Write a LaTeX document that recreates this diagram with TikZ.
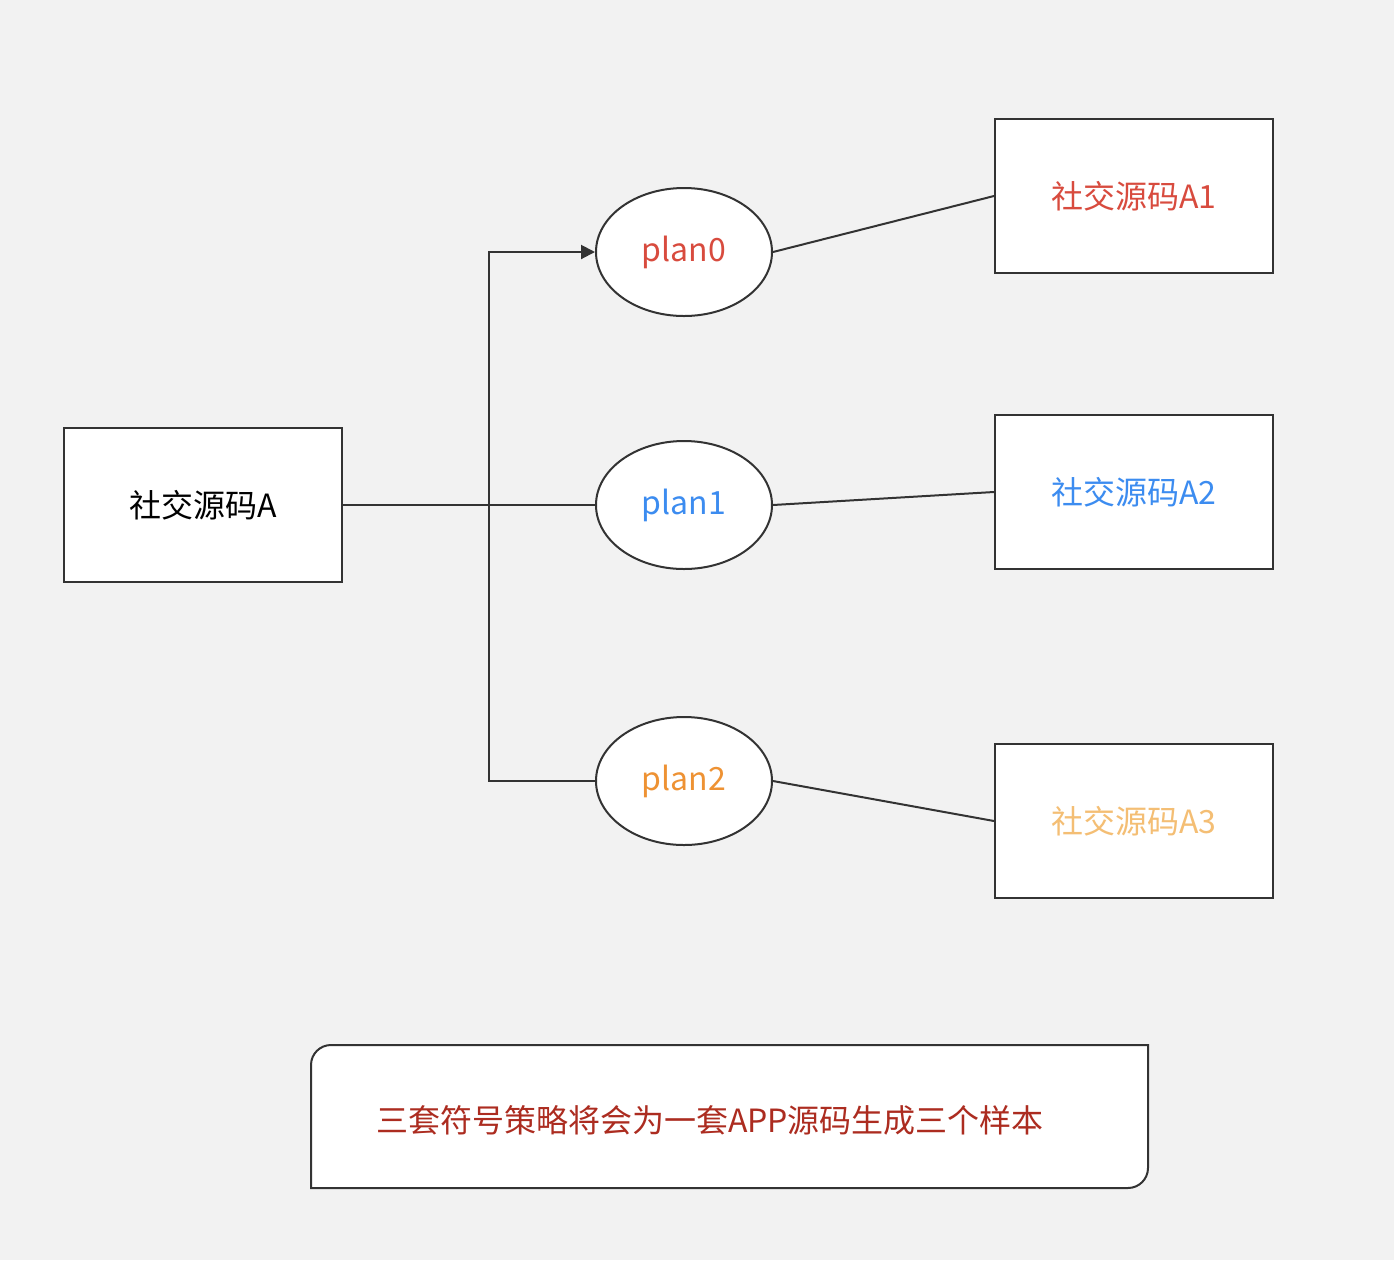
\documentclass[tikz,border=0pt]{standalone}
\usepackage{fontspec}
\setmainfont{Noto Sans CJK SC}
\usetikzlibrary{shapes.geometric,arrows.meta}
\definecolor{bggray}{HTML}{F2F2F2}
\definecolor{linegray}{HTML}{333333}
\definecolor{planred}{HTML}{D84B3E}
\definecolor{planblue}{HTML}{3C8CF0}
\definecolor{planorange}{HTML}{EE9233}
\definecolor{lightorange}{HTML}{F4BE74}
\definecolor{notered}{HTML}{AC2C20}
\tikzset{
  srcbox/.style={draw=linegray,fill=white,line width=1pt,minimum width=139pt,minimum height=77pt,inner sep=0pt,font=\fontsize{16}{19}\selectfont},
  plannode/.style={ellipse,draw=linegray,fill=white,line width=1pt,minimum width=88pt,minimum height=64pt,inner sep=0pt,font=\fontsize{16}{19}\selectfont},
  link/.style={draw=linegray,line width=1pt}
}
\begin{document}
\begin{tikzpicture}[x=0.5pt,y=-0.5pt]
    \fill[bggray] (0,0) rectangle (1394,1260);
    % source and samples
    \node[srcbox] (src) at (203,505) {社交源码A};
    \node[srcbox,text=planred] (a1) at (1134,196) {社交源码A1};
    \node[srcbox,text=planblue] (a2) at (1134,492) {社交源码A2};
    \node[srcbox,text=lightorange] (a3) at (1134,821) {社交源码A3};
    % plans
    \node[plannode,text=planred] (p0) at (684,252) {plan0};
    \node[plannode,text=planblue] (p1) at (684,505) {plan1};
    \node[plannode,text=planorange] (p2) at (684,781) {plan2};
    \coordinate (t0) at (489,252);
    \coordinate (t2) at (489,781);
    \draw[link] (src.east) -- (p1.west);
    \draw[link,-{Triangle[length=7pt,width=7pt]}] (p2.west) -- (t2) -- (t0) -- (p0.west);
    \draw[link] (p0.east) -- (a1.west);
    \draw[link] (p1.east) -- (a2.west);
    \draw[link] (p2.east) -- (a3.west);
    % note
    \draw[linegray,fill=white,line width=1pt] (311,1188) -- (311,1065) arc[start angle=180,end angle=270,radius=20]
        -- (1148,1045) -- (1148,1168) arc[start angle=0,end angle=90,radius=20] -- cycle;
    \node[text=notered,font=\fontsize{16}{19}\selectfont] (note) at (710,1120) {三套符号策略将会为一套APP源码生成三个样本};
\end{tikzpicture}
\end{document}
